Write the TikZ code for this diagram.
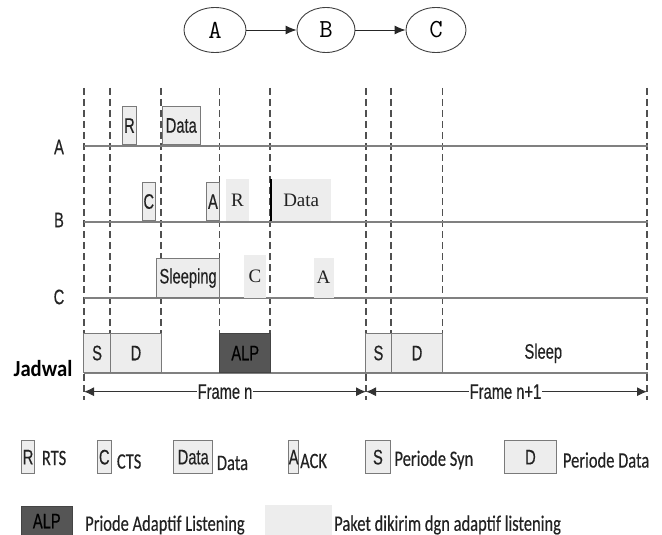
\documentclass[tikz,border=0pt]{standalone}
\usepackage{fontspec}
\usetikzlibrary{arrows.meta,shapes.geometric}
\newfontfamily\narf{Liberation Sans}[FakeStretch=0.7,FakeBold=0.4]
\newfontfamily\tmsf{Liberation Serif}
\newfontfamily\legf{Carlito}[FakeStretch=0.75,FakeBold=0.3]
\newfontfamily\jadf{Carlito}[FakeStretch=0.9]
\definecolor{boxfill}{HTML}{EDEDED}
\definecolor{boxline}{HTML}{7A7A7A}
\definecolor{tlcol}{HTML}{808080}
\definecolor{dashcol}{HTML}{505050}
\definecolor{alpfill}{HTML}{555555}
\definecolor{txtcol}{HTML}{222222}
\begin{document}
\begin{tikzpicture}[x=1pt,y=-1pt,
  every node/.style={inner sep=0pt,text=txtcol},
  sanslbl/.style={font=\narf\fontsize{21}{23}\selectfont},
  serlbl/.style={font=\tmsf\fontsize{19}{21}\selectfont},
  leglbl/.style={font=\legf\fontsize{22}{24}\selectfont, anchor=west},
  pkt/.style={sanslbl, draw=boxline, fill=boxfill, line width=0.9pt, anchor=south west},
  adapt/.style={serlbl, fill=boxfill, anchor=south west},
  alpbox/.style={sanslbl, draw=alpfill!80!black, fill=alpfill, line width=0.9pt, anchor=south west, text=black},
  nodeell/.style={ellipse, draw=black!75, line width=0.9pt, minimum height=45pt, font=\ttfamily\fontsize{26}{28}\selectfont, text=black},
  link/.style={-{Latex[length=11pt,width=9pt]}, line width=0.9pt, black!85},
  dashln/.style={dashcol, line width=1.3pt, dash pattern=on 7pt off 4pt},
  tline/.style={tlcol, line width=2pt},
  frarrow/.style={{Latex[length=10pt,width=9pt]}-{Latex[length=10pt,width=9pt]}, line width=1pt, black!80}
]
\useasboundingbox (0,0) rectangle (662,535);

% top graph
\node[nodeell, minimum width=62pt] (gA) at (215,30) {A};
\node[nodeell, minimum width=58pt] (gB) at (326,30) {B};
\node[nodeell, minimum width=60pt] (gC) at (436,30) {C};
\draw[link] (gA) -- (gB);
\draw[link] (gB) -- (gC);

% dashed guide lines
\foreach \x in {84,366,647} \draw[dashln] (\x,88) -- (\x,400);
\foreach \x in {110,161,219.3,270,391,442.3} \draw[dashln] (\x,88) -- (\x,372.7);

% timelines
\draw[tline] (84,145.5) -- (648,145.5);
\draw[tline] (84,221.5) -- (648,221.5);
\draw[tline] (84,297.7) -- (648,297.7);
\draw[tline] (84,372.7) -- (648,372.7);

% row labels
\node[sanslbl] (lA) at (59,147) {A};
\node[sanslbl] (lB) at (59,220) {B};
\node[sanslbl] (lC) at (59,297) {C};
\node[font=\jadf\bfseries\fontsize{23}{25}\selectfont, text=black] (lJ) at (43,369) {Jadwal};

% row A
\node[pkt, minimum width=13.4pt, minimum height=38pt] (aR) at (122.3,145) {R};
\node[pkt, minimum width=38.3pt, minimum height=38pt] (aD) at (161.7,145) {Data};

% row B
\node[pkt, minimum width=13.3pt, minimum height=38pt] (bC) at (141.7,221) {C};
\node[pkt, minimum width=13.6pt, minimum height=38pt] (bA) at (205.7,221) {A};
\node[adapt, minimum width=22.3pt, minimum height=41.7pt] (bR) at (226,221) {R};
\node[adapt, minimum width=60pt, minimum height=41.7pt] (bD) at (271,221) {Data};
\draw[line width=1.6pt, black] (bD.south west) -- (bD.north west);

% row C
\node[pkt, minimum width=63.3pt, minimum height=38.4pt] (cS) at (156,297.7) {Sleeping};
\node[adapt, minimum width=21.7pt, minimum height=42.7pt] (cC) at (244,297.7) {C};
\node[adapt, minimum width=20pt, minimum height=39.7pt] (cA) at (313.3,297.7) {A};

% schedule row
\node[pkt, minimum width=26.7pt, minimum height=38.4pt] (jS1) at (83.3,372.7) {S};
\node[pkt, minimum width=51pt, minimum height=38.4pt] (jD1) at (110,372.7) {D};
\node[alpbox, minimum width=51pt, minimum height=38.4pt] (jALP) at (219.3,372.7) {ALP};
\node[pkt, minimum width=26pt, minimum height=38.4pt] (jS2) at (365,372.7) {S};
\node[pkt, minimum width=51.3pt, minimum height=38.4pt] (jD2) at (391,372.7) {D};
\node[sanslbl] (jSl) at (543.3,353.3) {Sleep};

% frame arrows
\coordinate (f0) at (84,391.7);
\coordinate (f1) at (366,391.7);
\coordinate (f2) at (647,391.7);
\draw[frarrow] (f0) -- (f1);
\draw[frarrow] (f1) -- (f2);
\node[sanslbl, fill=white, inner xsep=1pt] (fn) at (225,391.7) {Frame n};
\node[sanslbl, fill=white, inner xsep=1pt] (fn1) at (505.5,391.7) {Frame n+1};

% legend row 1
\node[pkt, minimum width=13.3pt, minimum height=33.3pt] (kR) at (21,474.3) {R};
\node[leglbl] (tR) at (41.7,458) {RTS};
\node[pkt, minimum width=14.3pt, minimum height=33.3pt] (kC) at (96.7,474.3) {C};
\node[leglbl] (tC) at (116.7,461.5) {CTS};
\node[pkt, minimum width=39pt, minimum height=33.3pt] (kD) at (173.3,474.3) {Data};
\node[leglbl] (tD) at (216.7,463) {Data};
\node[pkt, minimum width=9.4pt, minimum height=33.3pt] (kA) at (288.3,474.3) {A};
\node[leglbl] (tA) at (300,461) {ACK};
\node[pkt, minimum width=25pt, minimum height=33.3pt] (kS) at (365,474.3) {S};
\node[leglbl] (tS) at (394.3,460) {Periode Syn};
\node[pkt, minimum width=51.4pt, minimum height=33.3pt] (kPD) at (504.3,474.3) {D};
\node[leglbl] (tPD) at (562.7,460) {Periode Data};

% legend row 2
\node[alpbox, minimum width=50.7pt, minimum height=29pt] (kALP) at (21,536) {ALP};
\node[leglbl] (tALP) at (85,525) {Priode Adaptif Listening};
\node[fill=boxfill, minimum width=67pt, minimum height=31pt, anchor=south west] (kAd) at (265,536) {};
\node[leglbl] (tAd) at (334,525) {Paket dikirim dgn adaptif listening};
\end{tikzpicture}
\end{document}
